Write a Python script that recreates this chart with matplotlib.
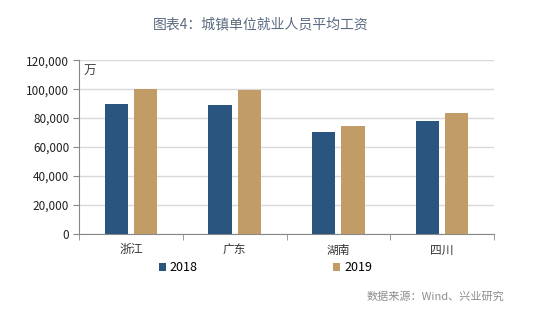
import matplotlib
matplotlib.use('Agg')
import matplotlib.pyplot as plt
import numpy as np

plt.rcParams['font.family'] = ['Noto Sans CJK SC', 'DejaVu Sans']

# 数据 (图中读数)
provinces = ['浙江', '广东', '湖南', '四川']
wage_2018 = [89600, 89100, 70600, 78200]
wage_2019 = [100000, 99400, 74700, 83700]
yticks = [0, 20000, 40000, 60000, 80000, 100000, 120000]

c2018 = '#2a557e'
c2019 = '#c19c67'

fig = plt.figure(figsize=(5.54, 3.22), dpi=100)
ax = fig.add_axes([0.1426, 0.2742, 0.7491, 0.5385])

x = np.arange(len(provinces))
w = 0.225
off = 0.141
ax.bar(x - off, wage_2018, w, color=c2018, label='2018', zorder=3)
ax.bar(x + off, wage_2019, w, color=c2019, label='2019', zorder=3)

ax.set_xlim(-0.5, len(provinces) - 0.5)
ax.set_ylim(0, 120000)
ax.set_yticks(yticks)
ax.set_yticklabels([f'{v:,}' for v in yticks], fontsize=8.5, color='#222222')
ax.yaxis.grid(True, color='#d9d9d9', linewidth=1, zorder=0)

ax.set_xticks(x)
ax.set_xticklabels(provinces, fontsize=8.5, color='#333333')
ax.tick_params(axis='x', length=0, pad=7)
ax.set_xticks(np.arange(-0.5, len(provinces)), minor=True)
ax.tick_params(axis='x', which='minor', length=4, color='#888888', direction='out')
ax.tick_params(axis='y', length=4, color='#888888', direction='out', pad=3)

for s in ['top', 'right']:
    ax.spines[s].set_visible(False)
for s in ['left', 'bottom']:
    ax.spines[s].set_color('#888888')

ax.text(0.012, 0.975, '万', transform=ax.transAxes, fontsize=9,
        color='#444444', va='top', ha='left')

fig.text(0.47, 0.925, '图表4：城镇单位就业人员平均工资', ha='center', va='center',
         fontsize=10, fontweight='medium', color='#5a6a80')

leg = fig.legend(loc='center', bbox_to_anchor=(0.479, 0.169), ncol=2,
                 frameon=False, fontsize=9, handlelength=0.6, handleheight=0.6,
                 handletextpad=0.3, columnspacing=10.8)
for t in leg.get_texts():
    t.set_fontweight('medium')

fig.text(0.91, 0.078, '数据来源：Wind、兴业研究', ha='right', va='center',
         fontsize=8, color='#8c8c8c')

fig.savefig('out.png', dpi=100)
